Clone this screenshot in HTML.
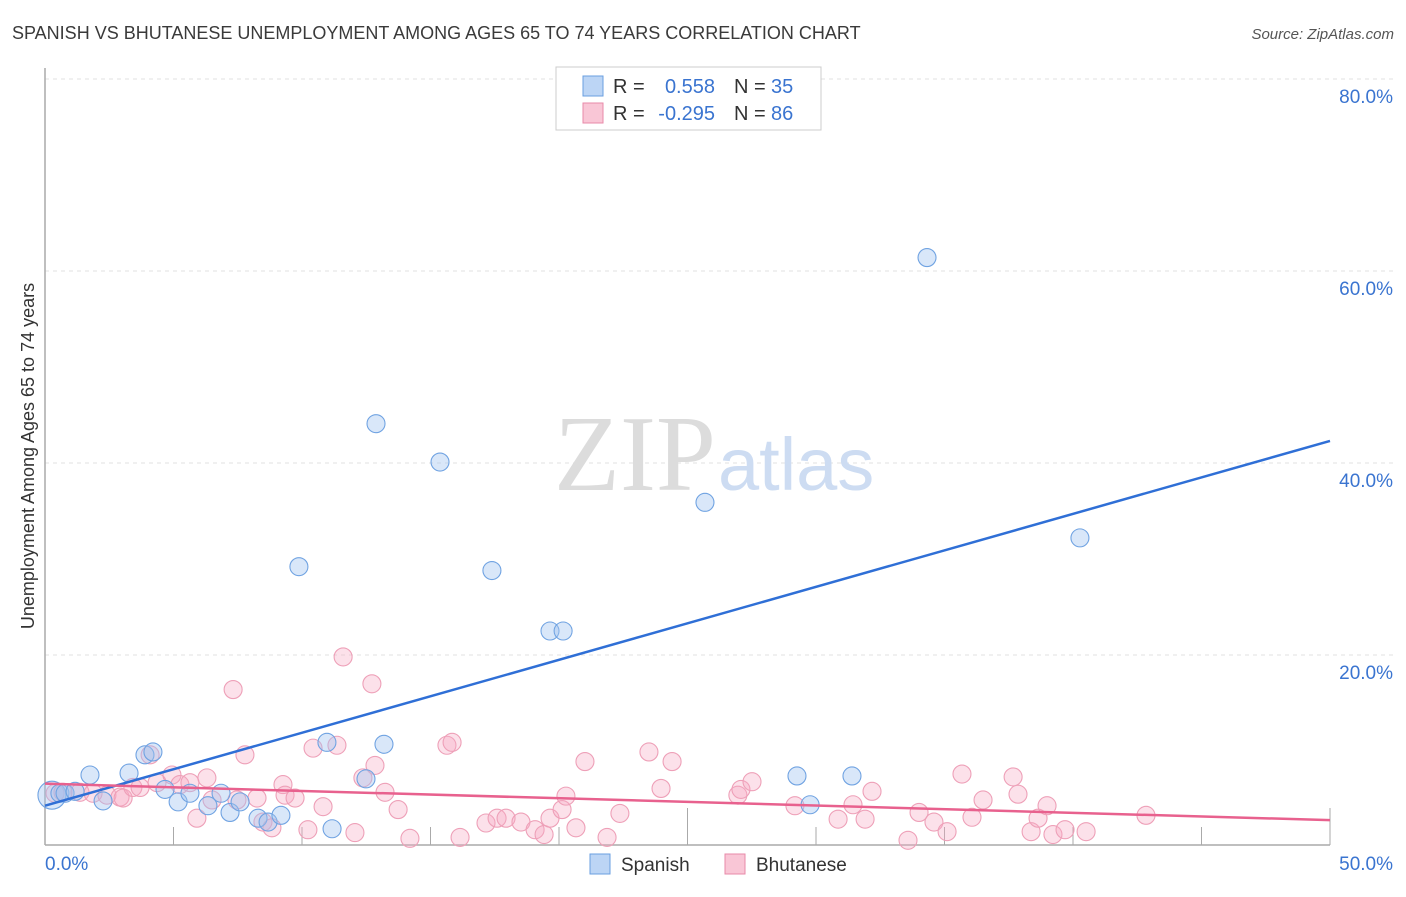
<!DOCTYPE html>
<html><head><meta charset="utf-8"><style>
body{margin:0;background:#fff;font-family:"Liberation Sans",sans-serif}
svg text{font-family:"Liberation Sans",sans-serif}
</style></head><body>
<svg width="1406" height="892" xmlns="http://www.w3.org/2000/svg">
<text x="12" y="39" font-size="18" fill="#3a3a3a">SPANISH VS BHUTANESE UNEMPLOYMENT AMONG AGES 65 TO 74 YEARS CORRELATION CHART</text>
<text x="1394" y="39" font-size="15" fill="#555" font-style="italic" text-anchor="end">Source: ZipAtlas.com</text>
<g id="grid"></g>
<text x="716" y="490" font-size="108" fill="#dcdcdc" text-anchor="end" style="font-family:'Liberation Serif',serif">ZIP</text>
<text x="718" y="490" font-size="74" fill="#cddcf2">atlas</text>
<g id="axes"></g>
<g id="pts"></g>
<g id="lines"></g>
<text transform="translate(34,456) rotate(-90)" font-size="18" fill="#333" text-anchor="middle">Unemployment Among Ages 65 to 74 years</text>
<g>
<rect x="556" y="67" width="265" height="63" fill="#fff" stroke="#ccc"/>
<rect x="583" y="76" width="20" height="20" fill="#bcd5f5" stroke="#6a9fe0"/>
<rect x="583" y="103" width="20" height="20" fill="#f9c6d6" stroke="#e88aa8"/>
<text x="613" y="93" font-size="20" fill="#333">R =</text>
<text x="715" y="93" font-size="20" fill="#3a74d0" text-anchor="end">0.558</text>
<text x="734" y="93" font-size="20" fill="#333">N =</text>
<text x="771" y="93" font-size="20" fill="#3a74d0">35</text>
<text x="613" y="120" font-size="20" fill="#333">R =</text>
<text x="715" y="120" font-size="20" fill="#3a74d0" text-anchor="end">-0.295</text>
<text x="734" y="120" font-size="20" fill="#333">N =</text>
<text x="771" y="120" font-size="20" fill="#3a74d0">86</text>
</g>
<g>
<rect x="590" y="854" width="20" height="20" fill="#bcd5f5" stroke="#6a9fe0"/>
<text x="621" y="871" font-size="19" fill="#333">Spanish</text>
<rect x="725" y="854" width="20" height="20" fill="#f9c6d6" stroke="#e88aa8"/>
<text x="756" y="871" font-size="19" fill="#333">Bhutanese</text>
</g>
</svg>
<script>
const spanishX=[0.27,0.58,0.78,1.17,1.75,2.26,3.27,3.89,4.2,4.67,5.18,5.64,6.34,6.85,7.2,7.59,8.29,8.68,9.18,9.88,10.97,11.17,12.49,12.88,13.19,15.37,17.39,19.65,20.16,25.68,29.26,29.77,31.4,34.32,40.27];
const spanishY=[5.4,5.6,5.6,5.8,7.5,4.8,7.7,9.6,9.9,6.0,4.7,5.6,4.3,5.6,3.6,4.7,3.0,2.6,3.3,29.2,10.9,1.9,7.1,44.1,10.7,40.1,28.8,22.5,22.5,35.9,7.4,4.4,7.4,61.4,32.2];
const bhutanX=[0.39,0.70,1.36,1.87,2.41,2.92,3.04,3.42,3.70,4.09,4.36,4.94,5.25,5.64,6.30,5.91,6.50,7.47,7.78,8.25,9.26,9.34,9.73,10.43,11.36,8.48,8.83,10.23,10.82,12.06,12.37,12.84,13.23,13.74,14.20,15.64,15.84,16.15,7.32,11.60,12.72,17.16,17.59,17.94,18.52,19.07,19.42,19.65,20.12,20.27,20.66,21.01,21.87,22.37,23.50,23.97,24.40,26.96,27.08,27.51,29.18,30.86,31.44,31.91,32.18,33.58,34.01,34.59,35.10,35.68,36.07,36.50,37.67,37.86,38.37,38.64,38.99,39.22,39.69,40.51,42.84];
const bhutanY=[5.6,5.7,5.7,5.6,5.4,5.2,5.1,6.2,6.2,9.6,6.7,7.5,6.5,6.7,7.2,3.0,4.9,4.9,9.6,5.1,6.5,5.4,5.1,10.3,10.6,2.6,2.0,1.8,4.2,1.5,7.2,8.5,5.7,3.9,0.9,10.6,10.9,1.0,16.4,19.8,17.0,2.5,3.0,3.0,2.6,1.8,1.3,3.0,3.9,5.3,2.0,8.9,1.0,3.5,9.9,6.1,8.9,5.4,6.0,6.8,4.3,2.9,4.4,2.9,5.8,0.7,3.6,2.6,1.6,7.6,3.1,4.9,7.3,5.5,1.6,3.0,4.3,1.3,1.8,1.6,3.3];
const yTicks=[20,40,60,80];
const yTickLabels=["20.0%","40.0%","60.0%","80.0%"];
const xTicks=[0,5,10,15,20,25,30,35,40,45,50];
const spanishTrend=[[0,4.3],[50,42.3]];
const bhutanTrend=[[0,6.6],[50,2.8]];
const NS="http://www.w3.org/2000/svg";
const X=v=>45+v*25.7, Y=v=>847-v*9.6;
function mk(t,a,p){const e=document.createElementNS(NS,t);for(const k in a)e.setAttribute(k,a[k]);document.getElementById(p).appendChild(e);return e;}
yTicks.forEach((t,i)=>{
 const l=mk('line',{x1:45,x2:1395,y1:Y(t),y2:Y(t),stroke:'#e2e2e2','stroke-dasharray':'4,4'},'grid');
 
 
 const tx=mk('text',{x:1393,y:Y(t)+24,'font-size':19,fill:'#3a74d0','text-anchor':'end'},'grid');
 tx.textContent=yTickLabels[i];
 
 
});
const ax=mk('line',{x1:45,x2:45,y1:68,y2:845,stroke:'#aaa','stroke-width':1.5},'axes');


const bx=mk('line',{x1:45,x2:1330,y1:845,y2:845,stroke:'#aaa','stroke-width':1.5},'axes');


xTicks.forEach((t,i)=>{
 const tall=(t==25||t==50);
 const l=mk('line',{x1:X(t),x2:X(t),y1:tall?808:827,y2:845,stroke:'#aaa'},'axes');
 
 
});
const xl0=mk('text',{x:45,y:870,'font-size':19,fill:'#3a74d0'},'axes');xl0.textContent='0.0%';


const xl1=mk('text',{x:1393,y:870,'font-size':19,fill:'#3a74d0','text-anchor':'end'},'axes');xl1.textContent='50.0%';


bhutanX.forEach((v,i)=>{
 const c=mk('circle',{cx:X(v),cy:Y(bhutanY[i]),r:9,fill:'rgba(245,170,195,0.35)',stroke:'#eea0b8','stroke-width':1.1},'pts');
 
 
});
spanishX.forEach((v,i)=>{
 const c=mk('circle',{cx:X(v),cy:Y(spanishY[i]),r:i==0?14:9,fill:'rgba(160,195,240,0.4)',stroke:'#70a3e2','stroke-width':1.1},'pts');
 
 
});
const t1=mk('line',{x1:X(spanishTrend[0][0]),y1:Y(spanishTrend[0][1]),x2:X(spanishTrend[1][0]),y2:Y(spanishTrend[1][1]),stroke:'#2f6fd6','stroke-width':2.5},'lines');


const t2=mk('line',{x1:X(bhutanTrend[0][0]),y1:Y(bhutanTrend[0][1]),x2:X(bhutanTrend[1][0]),y2:Y(bhutanTrend[1][1]),stroke:'#e8618e','stroke-width':2.5},'lines');


</script>
</body></html>
